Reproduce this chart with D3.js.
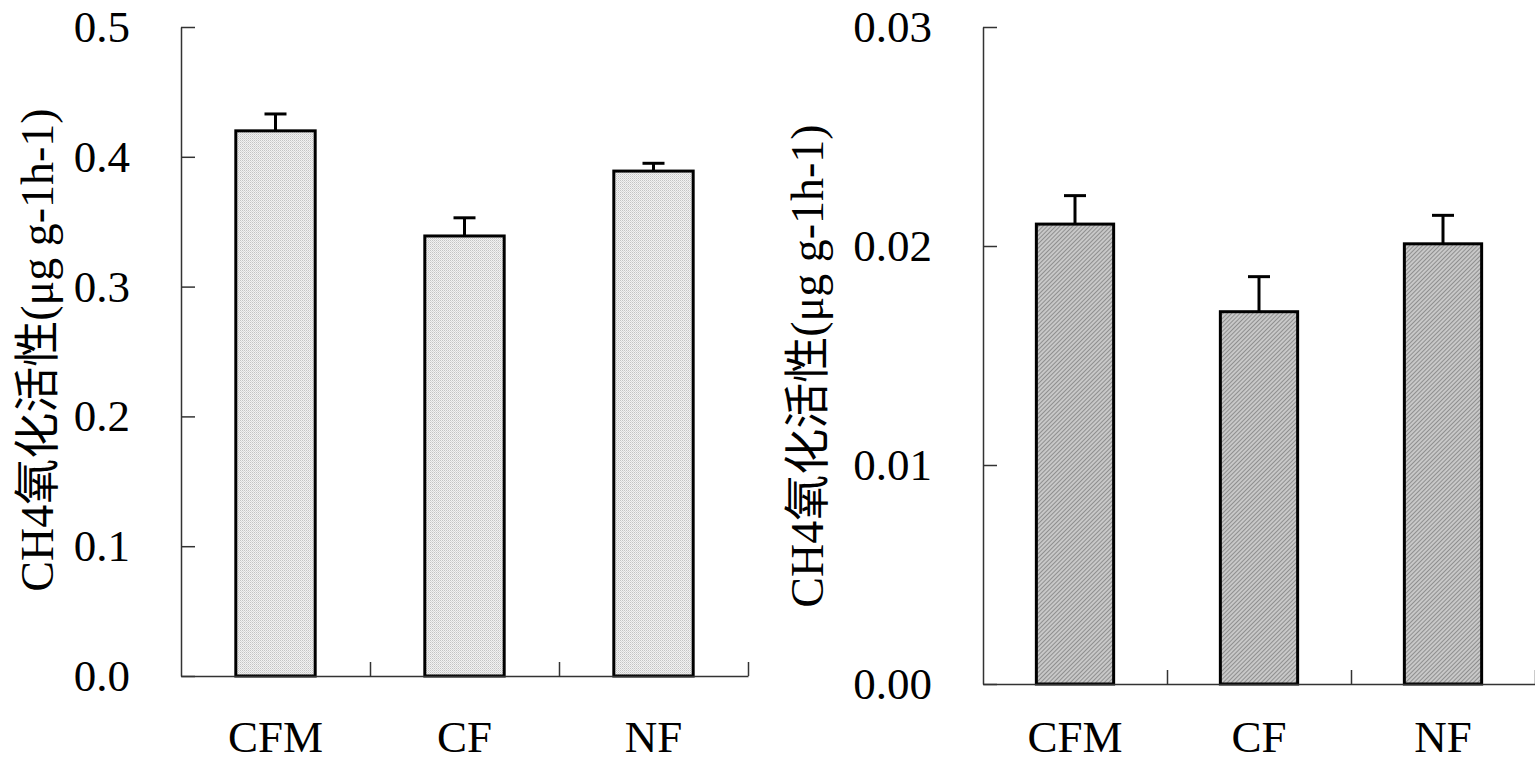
<!DOCTYPE html>
<html>
<head>
<meta charset="utf-8">
<script src="https://cdn.jsdelivr.net/npm/d3@7"></script>
<style>
  body { margin: 0; background: #fff; }
  text { font-family: "Liberation Serif", "Noto Sans CJK SC", serif; fill: #000; }
</style>
</head>
<body>
<svg id="chart" width="1535" height="762"></svg>
<script>
const categories = ["CFM", "CF", "NF"];
const yTitle = "CH4氧化活性(μg g-1h-1)";

const leftValues = [0.420, 0.339, 0.389];
const leftErrors = [0.013, 0.014, 0.006];
const leftTicks = [0, 0.1, 0.2, 0.3, 0.4, 0.5];

const rightValues = [0.0210, 0.0170, 0.0201];
const rightErrors = [0.0013, 0.0016, 0.0013];
const rightTicks = [0, 0.01, 0.02, 0.03];

const svg = d3.select("#chart");
const defs = svg.append("defs");

// light dotted fill for the left panel
const dots = defs.append("pattern")
    .attr("id", "dots")
    .attr("width", 2).attr("height", 2)
    .attr("patternUnits", "userSpaceOnUse");
dots.append("rect").attr("width", 2).attr("height", 2).attr("fill", "#f2f2f2");
dots.append("rect").attr("width", 1).attr("height", 1).attr("fill", "#c4c4c4");
dots.append("rect").attr("x", 1).attr("y", 1).attr("width", 1).attr("height", 1).attr("fill", "#d8d8d8");

// darker diagonal hatch for the right panel
const hatch = defs.append("pattern")
    .attr("id", "hatch")
    .attr("width", 3).attr("height", 3)
    .attr("patternUnits", "userSpaceOnUse")
    .attr("patternTransform", "rotate(45)");
hatch.append("rect").attr("width", 3).attr("height", 3).attr("fill", "#c8c8c8");
hatch.append("rect").attr("width", 1).attr("height", 3).attr("fill", "#8f8f8f");

const panel = (cfg) => {
    const x = d3.scaleBand()
        .domain(categories)
        .range([cfg.left, cfg.right])
        .padding(0);

    const xb = d3.scaleLinear()
        .domain([0, categories.length])
        .range([cfg.left, cfg.right]);

    const y = d3.scaleLinear()
        .domain([0, cfg.max])
        .range([cfg.bottom, cfg.top]);

    const g = svg.append("g");

    // bars
    const bw = x.bandwidth() * 0.42;
    const data = categories.map((c, i) => ({cat: c, v: cfg.values[i], e: cfg.errors[i]}));

    const eb = g.append("g").attr("class", "errors");
    eb.selectAll("line.stem")
        .data(data)
        .enter().append("line")
        .attr("class", "stem")
        .attr("x1", d => x(d.cat) + x.bandwidth() / 2)
        .attr("x2", d => x(d.cat) + x.bandwidth() / 2)
        .attr("y1", d => y(d.v))
        .attr("y2", d => y(d.v + d.e))
        .style("stroke", "#000")
        .style("stroke-width", 3);
    eb.selectAll("line.cap")
        .data(data)
        .enter().append("line")
        .attr("class", "cap")
        .attr("x1", d => x(d.cat) + x.bandwidth() / 2 - 11)
        .attr("x2", d => x(d.cat) + x.bandwidth() / 2 + 11)
        .attr("y1", d => y(d.v + d.e))
        .attr("y2", d => y(d.v + d.e))
        .style("stroke", "#000")
        .style("stroke-width", 3);

    g.append("g")
        .attr("class", "bars")
        .selectAll("rect")
        .data(data)
        .enter().append("rect")
        .attr("x", d => x(d.cat) + (x.bandwidth() - bw) / 2)
        .attr("y", d => y(d.v))
        .attr("width", bw)
        .attr("height", d => y(0) - y(d.v))
        .attr("fill", cfg.fill)
        .style("stroke", "#000")
        .style("stroke-width", 3);

    // y axis with inward ticks
    const yAxis = d3.axisLeft(y)
        .tickValues(cfg.ticks)
        .tickFormat(d3.format(cfg.fmt))
        .tickSizeInner(-14)
        .tickSizeOuter(0)
        .tickPadding(51);

    const ya = g.append("g")
        .attr("transform", "translate(" + cfg.left + ",0)")
        .call(yAxis);
    ya.select(".domain").style("stroke", "#333").style("stroke-width", 1.5);
    ya.selectAll(".tick line").style("stroke", "#333").style("stroke-width", 1.5);
    ya.selectAll(".tick text")
        .style("font-size", "45px")
        .style("font-family", "Liberation Serif, serif");

    // x axis: boundary ticks pointing up
    const xAxis = d3.axisBottom(xb)
        .tickValues(d3.range(1, categories.length + 1))
        .tickFormat("")
        .tickSizeInner(-14)
        .tickSizeOuter(0);

    const xa = g.append("g")
        .attr("transform", "translate(0," + cfg.bottom + ")")
        .call(xAxis);
    xa.select(".domain").style("stroke", "#333").style("stroke-width", 1.5);
    xa.selectAll(".tick line").style("stroke", "#333").style("stroke-width", 1.5);

    // category labels
    g.append("g")
        .selectAll("text")
        .data(categories)
        .enter().append("text")
        .attr("x", d => x(d) + x.bandwidth() / 2)
        .attr("y", 752)
        .attr("text-anchor", "middle")
        .style("font-size", "45px")
        .text(d => d);

    // y title
    g.append("text")
        .attr("transform", "translate(" + cfg.titleX + "," + cfg.titleY + ") rotate(-90)")
        .attr("text-anchor", "middle")
        .style("font-size", "46px")
        .text(yTitle);
};

panel({
    left: 181, right: 748, top: 27, bottom: 676,
    max: 0.5, ticks: leftTicks, fmt: ".1f",
    values: leftValues, errors: leftErrors,
    fill: "url(#dots)",
    titleX: 53, titleY: 350
});

panel({
    left: 983, right: 1535, top: 27, bottom: 684,
    max: 0.03, ticks: rightTicks, fmt: ".2f",
    values: rightValues, errors: rightErrors,
    fill: "url(#hatch)",
    titleX: 823, titleY: 366
});
</script>
</body>
</html>
